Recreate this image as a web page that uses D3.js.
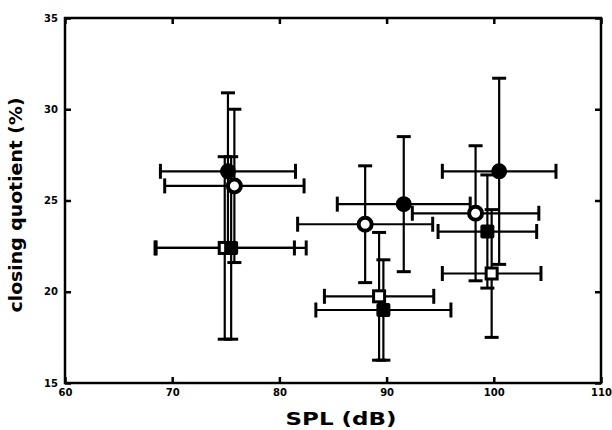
<!DOCTYPE html>
<html>
<head>
<meta charset="utf-8">
<script src="https://cdn.jsdelivr.net/npm/d3@7"></script>
<style>
  html, body { margin: 0; padding: 0; background: #fff; }
  svg { display: block; }
  text { font-family: "DejaVu Sans", sans-serif; font-weight: bold; fill: #000; }
</style>
</head>
<body>
<svg id="chart" width="612" height="430"></svg>
<script>
// Closing quotient against sound pressure level, four groups with SD bars
const xTicks = [60, 70, 80, 90, 100, 110];
const yTicks = [15, 20, 25, 30, 35];

// filled circles
const fcX = [75.2, 91.6, 100.5];
const fcY = [26.6, 24.8, 26.6];
const fcXErr = [6.3, 6.2, 5.3];
const fcYErr = [4.3, 3.7, 5.1];

// open circles
const ocX = [75.8, 88.0, 98.3];
const ocY = [25.8, 23.7, 24.3];
const ocXErr = [6.5, 6.3, 5.9];
const ocYErr = [4.2, 3.2, 3.7];

// open squares
const osX = [74.9, 89.3, 99.8];
const osY = [22.4, 19.75, 21.0];
const osXErr = [6.5, 5.1, 4.6];
const osYErr = [5.0, 3.5, 3.5];

// filled squares
const fsX = [75.5, 89.7, 99.4];
const fsY = [22.4, 19.0, 23.3];
const fsXErr = [7.0, 6.3, 4.6];
const fsYErr = [5.0, 2.75, 3.1];

const xLabel = "SPL (dB)";
const yLabel = "closing quotient (%)";

const series = [
  { shape: "circle", fill: true,  x: fcX, y: fcY, xe: fcXErr, ye: fcYErr },
  { shape: "circle", fill: false, x: ocX, y: ocY, xe: ocXErr, ye: ocYErr },
  { shape: "square", fill: false, x: osX, y: osY, xe: osXErr, ye: osYErr },
  { shape: "square", fill: true,  x: fsX, y: fsY, xe: fsXErr, ye: fsYErr }
].map(s => ({ ...s, pts: s.x.map((v, i) => ({ x: v, y: s.y[i], xe: s.xe[i], ye: s.ye[i] })) }));

const L = 65, R = 601, T = 18, B = 383;
const svg = d3.select("#chart");
const x = d3.scaleLinear().domain([60, 110]).range([L, R]);
const y = d3.scaleLinear().domain([15, 35]).range([B, T]);

// axes with inward ticks
const tickStyle = g => {
  g.select(".domain").remove();
  g.selectAll(".tick line").attr("stroke", "#000").attr("stroke-width", 2.5);
  g.selectAll(".tick text").attr("font-size", 10).attr("font-family", "DejaVu Sans").attr("font-weight", "bold");
};
svg.append("g").attr("transform", `translate(0,${B})`)
  .call(d3.axisBottom(x).tickValues(xTicks).tickSizeInner(-6).tickSizeOuter(0).tickPadding(6))
  .call(tickStyle);
svg.append("g").attr("transform", `translate(0,${T})`)
  .call(d3.axisTop(x).tickValues(xTicks).tickSizeInner(-6).tickSizeOuter(0).tickFormat(""))
  .call(tickStyle);
svg.append("g").attr("transform", `translate(${L},0)`)
  .call(d3.axisLeft(y).tickValues(yTicks).tickSizeInner(-6).tickSizeOuter(0).tickPadding(7))
  .call(tickStyle);
svg.append("g").attr("transform", `translate(${R},0)`)
  .call(d3.axisRight(y).tickValues(yTicks).tickSizeInner(-6).tickSizeOuter(0).tickFormat(""))
  .call(tickStyle);

svg.append("rect")
  .attr("x", L).attr("y", T).attr("width", R - L).attr("height", B - T)
  .attr("fill", "none").attr("stroke", "#000").attr("stroke-width", 2.5);

// error bars
const bars = svg.append("g").attr("stroke", "#000").attr("fill", "none");
series.forEach(s => {
  s.pts.forEach(p => {
    const g = bars.append("g");
    g.append("line").attr("x1", x(p.x - p.xe)).attr("x2", x(p.x + p.xe))
      .attr("y1", y(p.y)).attr("y2", y(p.y)).attr("stroke-width", 2.2);
    g.append("line").attr("x1", x(p.x)).attr("x2", x(p.x))
      .attr("y1", y(p.y - p.ye)).attr("y2", y(p.y + p.ye)).attr("stroke-width", 2.2);
    [p.x - p.xe, p.x + p.xe].forEach(v => {
      g.append("line").attr("x1", x(v)).attr("x2", x(v))
        .attr("y1", y(p.y) - 7.5).attr("y2", y(p.y) + 7.5).attr("stroke-width", 3);
    });
    [p.y - p.ye, p.y + p.ye].forEach(v => {
      g.append("line").attr("x1", x(p.x) - 7).attr("x2", x(p.x) + 7)
        .attr("y1", y(v)).attr("y2", y(v)).attr("stroke-width", 3);
    });
  });
});

// markers
const marks = svg.append("g");
series.forEach(s => {
  s.pts.forEach(p => {
    if (s.shape === "circle") {
      if (s.fill) {
        marks.append("circle").attr("cx", x(p.x)).attr("cy", y(p.y)).attr("r", 8).attr("fill", "#000");
      } else {
        marks.append("circle").attr("cx", x(p.x)).attr("cy", y(p.y)).attr("r", 6.5)
          .attr("fill", "#fff").attr("stroke", "#000").attr("stroke-width", 4);
      }
    } else {
      if (s.fill) {
        marks.append("rect").attr("x", x(p.x) - 7).attr("y", y(p.y) - 7)
          .attr("width", 14).attr("height", 14).attr("rx", 2).attr("fill", "#000");
      } else {
        marks.append("rect").attr("x", x(p.x) - 5.5).attr("y", y(p.y) - 5.5)
          .attr("width", 11).attr("height", 11)
          .attr("fill", "#fff").attr("stroke", "#000").attr("stroke-width", 3);
      }
    }
  });
});

// axis titles (wide bold lettering)
svg.append("text")
  .attr("transform", "translate(341,425) scale(1.35,1)")
  .attr("text-anchor", "middle").attr("font-size", 17)
  .text(xLabel);
svg.append("text")
  .attr("transform", "translate(22,205) rotate(-90)")
  .attr("text-anchor", "middle").attr("font-size", 18)
  .attr("textLength", 215).attr("lengthAdjust", "spacingAndGlyphs")
  .text(yLabel);
</script>
</body>
</html>
